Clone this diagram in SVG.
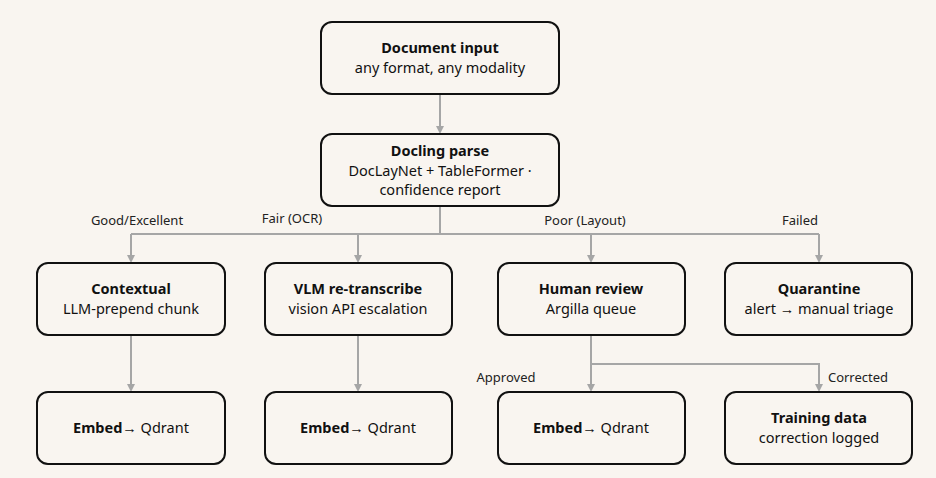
<svg xmlns="http://www.w3.org/2000/svg" width="936" height="478" viewBox="0 0 936 478">
<defs>
<marker id="ah" markerWidth="8" markerHeight="8" refX="4" refY="7" orient="auto" markerUnits="userSpaceOnUse" viewBox="0 0 8 8"><path d="M0,0 L8,0 L4,8 Z" transform="rotate(-90 4 4)" fill="#a6a6a6"/></marker>
</defs>
<style>
.n{fill:#f9f5f0;stroke:#111;stroke-width:2}
.t{font-family:"Noto Sans","Open Sans",sans-serif;font-size:14.5px;fill:#111;text-anchor:middle}
.b{font-weight:bold}
.c{fill:none;stroke:#a6a6a6;stroke-width:2}
.l{font-family:"Noto Sans","Open Sans",sans-serif;font-size:13px;fill:#222;text-anchor:middle}
</style>
<rect width="936" height="478" fill="#f9f5f0"/>
<g id="connectors">
<path class="c" d="M440,94 V131"/>
<path d="M436,126 L444,126 L440,134 Z" fill="#a6a6a6"/>
<path class="c" d="M440,206 V234 M131,234 H819"/>
<path class="c" d="M131,234 V260 M358,234 V260 M591,234 V260 M819,234 V260"/>
<path d="M127,255 L135,255 L131,263 Z M354,255 L362,255 L358,263 Z M587,255 L595,255 L591,263 Z M815,255 L823,255 L819,263 Z" fill="#a6a6a6"/>
<path class="c" d="M131,335 V389 M358,335 V389 M591,335 V389 M591,364 H819 V389"/>
<path d="M127,384 L135,384 L131,392 Z M354,384 L362,384 L358,392 Z M587,384 L595,384 L591,392 Z M815,384 L823,384 L819,392 Z" fill="#a6a6a6"/>
<text class="l" x="137" y="225">Good/Excellent</text>
<text class="l" x="292" y="223">Fair (OCR)</text>
<text class="l" x="585" y="225">Poor (Layout)</text>
<text class="l" x="800" y="225">Failed</text>
<text class="l" x="506" y="382">Approved</text>
<text class="l" x="858" y="382">Corrected</text>
</g>
<g id="doc-input"><rect class="n" x="321" y="22" width="238" height="72" rx="11"/><text class="t b" x="440" y="53">Document input</text><text class="t" x="440" y="73">any format, any modality</text></g>
<g id="docling"><rect class="n" x="321" y="134" width="238" height="72" rx="11"/><text class="t b" x="440" y="156">Docling parse</text><text class="t" x="440" y="176">DocLayNet + TableFormer ·</text><text class="t" x="440" y="195">confidence report</text></g>
<g id="contextual"><rect class="n" x="37" y="263" width="188" height="72" rx="11"/><text class="t b" x="131" y="294">Contextual</text><text class="t" x="131" y="314">LLM-prepend chunk</text></g>
<g id="vlm"><rect class="n" x="265" y="263" width="187" height="72" rx="11"/><text class="t b" x="358" y="294">VLM re-transcribe</text><text class="t" x="358" y="314">vision API escalation</text></g>
<g id="human"><rect class="n" x="498" y="263" width="187" height="72" rx="11"/><text class="t b" x="591" y="294">Human review</text><text class="t" x="591" y="314">Argilla queue</text></g>
<g id="quarantine"><rect class="n" x="725" y="263" width="187" height="72" rx="11"/><text class="t b" x="819" y="294">Quarantine</text><text class="t" x="819" y="314">alert → manual triage</text></g>
<g id="embed1"><rect class="n" x="37" y="392" width="188" height="72" rx="11"/><text class="t" x="131" y="433"><tspan class="b">Embed</tspan>→ Qdrant</text></g>
<g id="embed2"><rect class="n" x="265" y="392" width="187" height="72" rx="11"/><text class="t" x="358" y="433"><tspan class="b">Embed</tspan>→ Qdrant</text></g>
<g id="embed3"><rect class="n" x="498" y="392" width="187" height="72" rx="11"/><text class="t" x="591" y="433"><tspan class="b">Embed</tspan>→ Qdrant</text></g>
<g id="training"><rect class="n" x="725" y="392" width="187" height="72" rx="11"/><text class="t b" x="819" y="423">Training data</text><text class="t" x="819" y="443">correction logged</text></g>
</svg>
